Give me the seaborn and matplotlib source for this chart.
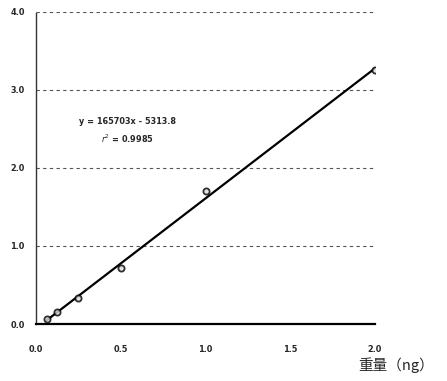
import numpy as np
import pandas as pd
import matplotlib
matplotlib.use("Agg")
import matplotlib.pyplot as plt
import seaborn as sns

# data (y in units of 1e5)
weight = [0.0625, 0.125, 0.25, 0.5, 1.0, 2.0]
area = [0.07, 0.15, 0.33, 0.72, 1.70, 3.25]
x_ticks = [0.0, 0.5, 1.0, 1.5, 2.0]
x_labels = ["0.0", "0.5", "1.0", "1.5", "2.0"]
y_ticks = [0.0, 1.0, 2.0, 3.0, 4.0]
y_labels = ["0.0", "1.0", "2.0", "3.0", "4.0"]
eq_text = "y = 165703x - 5313.8"
r2_text = "$r^2$ = 0.9985"
xlabel = "重量（ng）"

df = pd.DataFrame({"weight": weight, "area": area})

sns.set_style("white")
plt.rcParams["font.family"] = ["DejaVu Sans"]
plt.rcParams["font.stretch"] = "condensed"

fig = plt.figure(figsize=(4.47, 3.81), dpi=100)
ax = fig.add_axes([0.0805, 0.1496, 0.7585, 0.819])

sns.regplot(x="weight", y="area", data=df, ci=None, ax=ax,
            scatter_kws={"s": 20, "facecolor": "#dddddd", "edgecolor": "black", "linewidths": 1.3, "zorder": 3},
            line_kws={"color": "black", "linewidth": 1.6})

ax.set_xlim(0, 2.0)
ax.set_ylim(0, 4.0)
ax.set_xticks(x_ticks)
ax.set_xticklabels(x_labels, fontsize=6.5, fontweight="bold", fontstretch="condensed")
ax.set_yticks(y_ticks)
ax.set_yticklabels(y_labels, fontsize=6.5, fontweight="bold", fontstretch="condensed")
ax.tick_params(axis="x", direction="in", length=4, width=1.2, pad=15, color="black")
ax.tick_params(axis="y", length=0, pad=8)

for yv in y_ticks[1:]:
    ax.axhline(yv, color="#555555", linestyle=(0, (3, 3)), linewidth=0.8, zorder=1)

for s in ["top", "right"]:
    ax.spines[s].set_visible(False)
ax.spines["left"].set_color("#333333")
ax.spines["left"].set_linewidth(1.0)
ax.spines["left"].set_linestyle((0, (2, 1)))
ax.spines["bottom"].set_color("black")
ax.spines["bottom"].set_linewidth(1.6)
ax.set_xlabel("")
ax.set_ylabel("")

ax.text(0.54, 2.59, eq_text, ha="center", va="center", fontsize=6.5, fontweight="bold", fontstretch="condensed")
ax.text(0.54, 2.38, r2_text, ha="center", va="center", fontsize=6.5, fontweight="bold", fontstretch="condensed")

fig.text(0.886, 0.042, xlabel, ha="center", va="center", fontsize=10.5,
         family=["Noto Sans CJK JP", "DejaVu Sans"])

fig.savefig("out.png", dpi=100)
